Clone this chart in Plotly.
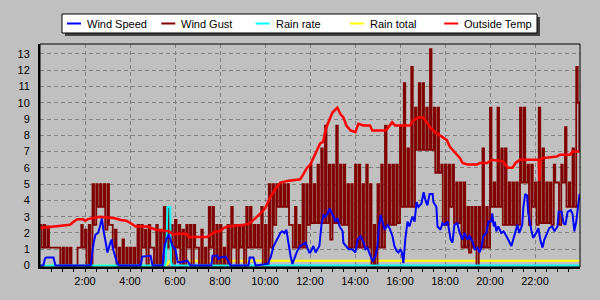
import plotly.graph_objects as go

# ---------------- data ----------------
def hm(s):
    h, m = s.split(":")
    return int(h) + int(m) / 60.0

# Wind gust envelope per 10-minute bin starting 0:00 (high / low within the bin)
gust_hi = [
    2.5, 2.5, 2.4, 1.1, 1.1, 1.1,
    1.1, 1.1, 1.1, 0.0, 1.1, 2.5,
    2.2, 2.5, 5.0, 5.0, 5.0, 5.0,
    5.0, 2.5, 2.2, 1.1, 1.6, 1.1,
    1.1, 1.1, 2.5, 2.5, 2.2, 2.5,
    1.1, 2.5, 2.2, 3.6, 3.6, 2.5,
    2.8, 2.5, 2.2, 2.5, 2.5, 2.5,
    1.1, 2.2, 1.1, 3.6, 3.6, 2.5,
    2.5, 1.1, 2.5, 3.6, 2.5, 2.5,
    2.5, 3.6, 3.6, 2.5, 2.5, 3.6,
    2.5, 5.0, 5.0, 5.0, 5.0, 5.0,
    5.0, 2.5, 3.6, 2.5, 5.0, 5.0,
    6.2, 5.0, 6.2, 7.2, 8.6, 6.2,
    6.2, 8.6, 6.2, 6.2, 5.0, 5.0,
    6.2, 6.2, 5.0, 6.2, 5.0, 2.5,
    5.0, 6.2, 8.6, 6.2, 6.2, 6.2,
    8.6, 11.2, 7.2, 12.2, 9.7, 11.2,
    11.2, 9.7, 13.3, 9.7, 9.7, 6.2,
    6.2, 6.2, 6.2, 5.1, 5.1, 5.1,
    3.6, 3.6, 3.6, 3.6, 7.2, 3.6,
    9.7, 5.1, 9.7, 7.2, 7.2, 5.1,
    5.1, 5.1, 9.7, 9.7, 6.2, 6.2,
    5.1, 9.7, 7.2, 5.1, 5.1, 6.2,
    5.1, 6.2, 8.5, 5.1, 7.2, 12.2,
]
gust_lo = [
    1.1, 1.1, 1.1, 1.1, 1.1, 0.0,
    0.0, 0.0, 0.0, 0.0, 1.1, 1.1,
    0.0, 0.0, 2.5, 3.6, 3.6, 2.2,
    2.5, 1.1, 0.0, 0.0, 0.0, 0.0,
    0.0, 0.0, 0.0, 1.1, 0.0, 1.1,
    0.0, 0.0, 0.0, 1.1, 1.1, 0.0,
    1.1, 0.0, 0.0, 1.1, 0.0, 1.1,
    0.0, 0.0, 0.0, 1.1, 0.0, 0.0,
    0.0, 0.0, 0.0, 1.1, 0.0, 1.1,
    0.0, 1.1, 1.1, 1.1, 1.1, 0.0,
    0.0, 1.1, 2.5, 3.6, 3.6, 3.6,
    2.5, 1.1, 1.1, 1.1, 1.1, 2.5,
    2.6, 2.6, 2.6, 2.6, 2.6, 1.6,
    2.6, 2.6, 2.5, 2.5, 1.1, 1.1,
    1.1, 1.1, 1.1, 1.1, 0.0, 0.0,
    1.1, 1.1, 2.5, 2.5, 2.5, 2.6,
    3.6, 3.6, 3.6, 3.6, 7.1, 7.1,
    7.1, 7.1, 7.1, 5.7, 5.7, 2.5,
    2.5, 3.6, 2.6, 2.6, 1.1, 1.1,
    0.8, 1.1, 0.0, 1.1, 1.1, 1.1,
    3.6, 3.6, 3.6, 2.5, 2.5, 2.5,
    2.5, 2.5, 5.1, 5.1, 2.5, 3.6,
    2.5, 2.6, 2.6, 2.6, 2.5, 5.1,
    2.5, 5.1, 3.6, 3.6, 3.6, 10.0,
]
gust_last_time = "23:58"
gust_last_value = 7.0

speed_times = [
    "0:00", "0:09", "0:13", "0:16", "0:36", "0:41", "2:15", "2:19", "2:23", "2:28",
    "2:35", "2:41", "2:45", "2:49", "2:55", "3:00", "3:06", "3:11", "3:15", "3:20",
    "3:25", "3:30", "4:28", "4:33", "4:55", "5:00", "5:27", "5:29", "5:32", "5:37",
    "5:40", "5:43", "5:48", "5:53", "6:01", "6:07", "6:15", "6:33", "6:41", "7:37",
    "7:40", "7:53", "7:56", "8:01", "8:15", "8:23", "8:28", "9:16", "9:19", "9:29",
    "9:35", "10:07", "10:15", "10:23", "10:33", "10:41", "10:46", "10:52", "10:57", "11:02",
    "11:08", "11:13", "11:21", "11:26", "11:34", "11:42", "11:48", "11:53", "11:58", "12:01",
    "12:09", "12:15", "12:20", "12:25", "12:31", "12:36", "12:41", "12:47", "12:52", "13:00",
    "13:03", "13:08", "13:13", "13:19", "13:27", "13:29", "13:37", "13:43", "13:53", "14:01",
    "14:07", "14:15", "14:23", "14:28", "14:33", "14:41", "14:47", "14:55", "15:00", "15:03",
    "15:08", "15:13", "15:19", "15:27", "15:32", "15:40", "15:45", "15:51", "15:56", "16:01",
    "16:05", "16:09", "16:14", "16:20", "16:25", "16:33", "16:39", "16:44", "16:49", "16:57",
    "17:03", "17:08", "17:13", "17:19", "17:27", "17:29", "17:37", "17:40", "17:48", "17:53",
    "17:59", "18:07", "18:15", "18:20", "18:25", "18:33", "18:39", "18:47", "18:52", "19:00",
    "19:05", "19:13", "19:19", "19:27", "19:32", "19:37", "19:42", "19:50", "19:56", "20:04",
    "20:06", "20:10", "20:13", "20:17", "20:22", "20:30", "20:36", "20:44", "20:49", "20:57",
    "21:02", "21:08", "21:13", "21:18", "21:26", "21:29", "21:34", "21:39", "21:42", "21:50",
    "21:55", "22:03", "22:09", "22:14", "22:20", "22:25", "22:33", "22:38", "22:46", "22:52",
    "23:00", "23:03", "23:11", "23:16", "23:21", "23:27", "23:35", "23:40", "23:45", "23:50",
    "23:56", "23:59",
]
speed_values = [
    0.0, 0.0, 0.4, 0.5, 0.5, 0.0, 0.0, 0.7, 1.4, 1.9,
    2.0, 2.5, 2.9, 2.2, 1.3, 0.8, 1.3, 1.6, 1.0, 0.5,
    0.2, 0.0, 0.0, 0.55, 0.6, 0.0, 0.0, 0.6, 1.2, 1.6,
    1.8, 1.9, 1.6, 1.2, 1.0, 0.2, 0.2, 0.3, 0.0, 0.0,
    0.6, 0.6, 0.4, 0.5, 0.55, 0.2, 0.0, 0.0, 0.5, 0.5,
    0.0, 0.1, 0.5, 1.2, 1.6, 2.0, 2.1, 2.0, 2.2, 1.4,
    0.6, 0.1, 0.6, 0.9, 1.2, 1.3, 1.4, 1.1, 0.8, 0.8,
    1.2, 0.8, 1.0, 1.2, 2.6, 3.1, 3.0, 3.2, 3.5, 3.2,
    3.0, 2.7, 2.9, 2.4, 2.1, 1.4, 1.2, 1.0, 1.0, 0.8,
    1.6, 1.8, 1.4, 1.0, 1.1, 0.6, 0.25, 0.6, 1.2, 2.2,
    3.1, 2.7, 2.2, 2.5, 2.3, 1.8, 1.2, 0.9, 0.8, 1.0,
    0.8, 0.15, 1.6, 2.7, 2.4, 3.0, 2.7, 3.9, 3.6, 3.8,
    4.5, 4.0, 3.7, 4.4, 4.4, 3.9, 3.6, 2.4, 2.2, 2.6,
    2.5, 2.7, 1.6, 1.4, 2.5, 2.6, 2.0, 1.6, 2.0, 1.6,
    1.8, 1.5, 1.0, 1.1, 0.8, 1.1, 1.8, 2.0, 2.7, 2.7,
    3.2, 2.4, 2.7, 2.1, 2.4, 2.0, 2.1, 1.8, 1.6, 1.2,
    1.6, 2.1, 2.5, 2.0, 2.5, 3.6, 4.4, 4.3, 3.2, 2.2,
    1.7, 2.0, 2.3, 1.6, 1.1, 1.6, 2.0, 2.3, 2.4, 2.1,
    2.4, 3.3, 3.3, 2.6, 2.5, 3.3, 3.4, 3.2, 2.1, 2.7,
    3.9, 4.4,
]

rain_rate_times = ["0:00", "5:34", "5:36", "5:38", "5:40", "5:47", "5:49", "5:52", "23:59"]
rain_rate_values = [0.0, 0.0, 0.4, 1.8, 3.6, 3.6, 0.3, 0.0, 0.0]

rain_total_times = ["0:00", "5:37", "5:40", "5:46", "23:59"]
rain_total_values = [0.0, 0.0, 0.1, 0.3, 0.3]

temp_times = [
    "0:00", "0:40", "1:00", "1:20", "1:30", "1:40", "1:55", "2:00", "2:08", "2:20",
    "2:40", "3:00", "3:20", "3:35", "3:50", "4:02", "4:15", "4:45", "5:10", "5:45",
    "5:55", "6:05", "6:30", "6:38", "7:25", "7:35", "7:50", "8:00", "8:10", "8:20",
    "9:05", "9:20", "9:35", "9:48", "10:00", "10:14", "10:28", "10:41", "11:00", "11:34",
    "11:42", "11:52", "12:01", "12:09", "12:19", "12:27", "12:35", "12:41", "12:49", "13:00",
    "13:13", "13:21", "13:29", "13:37", "13:48", "14:01", "14:09", "14:22", "14:40", "14:46",
    "15:00", "15:20", "15:26", "15:39", "15:47", "16:27", "16:35", "16:48", "17:02", "17:12",
    "17:20", "17:33", "17:52", "18:05", "18:13", "18:27", "18:40", "18:47", "19:00", "19:25",
    "19:33", "19:52", "20:05", "20:34", "20:48", "21:00", "21:08", "21:20", "21:38", "22:10",
    "22:12", "22:14", "22:21", "22:58", "23:06", "23:33", "23:40", "23:59",
]
temp_values = [
    2.3, 2.4, 2.45, 2.5, 2.7, 2.85, 2.85, 2.75, 2.85, 2.9,
    3.0, 2.95, 2.9, 2.8, 2.75, 2.6, 2.4, 2.4, 2.2, 2.1,
    1.9, 1.95, 1.95, 1.75, 1.75, 1.9, 2.1, 2.1, 2.3, 2.4,
    2.5, 2.6, 2.9, 3.2, 3.5, 4.2, 4.7, 5.1, 5.2, 5.3,
    5.6, 6.0, 6.2, 6.6, 7.0, 7.5, 7.6, 8.3, 8.8, 9.4,
    9.7, 9.3, 9.1, 8.6, 8.3, 8.2, 8.7, 8.6, 8.6, 8.3,
    8.3, 8.3, 8.4, 8.8, 8.6, 8.6, 8.9, 9.1, 9.1, 8.8,
    8.5, 8.2, 7.9, 7.7, 7.3, 6.9, 6.6, 6.3, 6.2, 6.2,
    6.3, 6.3, 6.5, 6.4, 6.0, 6.0, 6.3, 6.5, 6.5, 6.5,
    5.2, 6.5, 6.6, 6.7, 6.8, 6.8, 7.0, 7.0,
]

x_tick_hours = [2, 4, 6, 8, 10, 12, 14, 16, 18, 20, 22]
x_tick_labels = ["2:00", "4:00", "6:00", "8:00", "10:00", "12:00",
                 "14:00", "16:00", "18:00", "20:00", "22:00"]
y_ticks = list(range(0, 14))

legend_names = ["Wind Speed", "Wind Gust", "Rain rate", "Rain total", "Outside Temp"]
legend_colors = ["#0000ff", "#800000", "#00ffff", "#ffff00", "#ff0000"]

# ---------------- build ----------------
# each 10-minute bin: high reading held briefly, then the low reading (step line)
gx, gy = [], []
for i, (hi, lo) in enumerate(zip(gust_hi, gust_lo)):
    t = i * 10 / 60.0
    gx += [t, t + 4 / 60.0]
    gy += [hi, lo]
gx.append(hm(gust_last_time))
gy.append(gust_last_value)

FONT = "Arial, 'Liberation Sans', sans-serif"
fig = go.Figure()

fig.add_trace(go.Scatter(x=[hm(t) for t in rain_total_times], y=rain_total_values,
                         mode="lines", line=dict(color=legend_colors[3], width=2),
                         name=legend_names[3], showlegend=False))
fig.add_trace(go.Scatter(x=gx, y=gy, mode="lines", line_shape="hv",
                         line=dict(color=legend_colors[1], width=1.8),
                         name=legend_names[1], showlegend=False))
fig.add_trace(go.Scatter(x=[hm(t) for t in rain_rate_times], y=rain_rate_values,
                         mode="lines", line=dict(color=legend_colors[2], width=2),
                         name=legend_names[2], showlegend=False))
fig.add_trace(go.Scatter(x=[hm(t) for t in speed_times], y=speed_values,
                         mode="lines", line=dict(color=legend_colors[0], width=2),
                         name=legend_names[0], showlegend=False))
fig.add_trace(go.Scatter(x=[hm(t) for t in temp_times], y=temp_values,
                         mode="lines", line=dict(color=legend_colors[4], width=2.5),
                         name=legend_names[4], showlegend=False))

# plot area in pixels
L, R, T, B = 40, 580, 44, 267
W, H = 600, 300


def px(xp):
    return (xp - L) / (R - L)


def py(yp):
    return (B - yp) / (B - T)


shapes = []
# plot frame
shapes.append(dict(type="rect", xref="paper", yref="paper", x0=0, x1=1, y0=0, y1=1,
                   line=dict(color="black", width=1), layer="above"))
# manual legend: shadow + box
bx0, bx1, by0, by1 = 62, 537, 14, 33
shapes.append(dict(type="rect", xref="paper", yref="paper",
                   x0=px(bx0 + 3), x1=px(bx1 + 3), y0=py(by1 + 3), y1=py(by0 + 3),
                   fillcolor="#404040", line=dict(width=0), layer="above"))
shapes.append(dict(type="rect", xref="paper", yref="paper",
                   x0=px(bx0), x1=px(bx1), y0=py(by1), y1=py(by0),
                   fillcolor="white", line=dict(color="black", width=1), layer="above"))
annotations = []
ly = (by0 + by1) / 2
for i, (name, col) in enumerate(zip(legend_names, legend_colors)):
    s = 67 + 94.3 * i
    shapes.append(dict(type="line", xref="paper", yref="paper",
                       x0=px(s), x1=px(s + 14), y0=py(ly), y1=py(ly),
                       line=dict(color=col, width=2), layer="above"))
    annotations.append(dict(xref="paper", yref="paper", x=px(s + 18), y=py(ly),
                            xanchor="left", yanchor="middle", text=name, showarrow=False,
                            font=dict(family=FONT, size=11, color="black")))

grid = dict(showgrid=True, gridcolor="#808080", gridwidth=1, griddash="4px,3px")

fig.update_layout(
    width=W, height=H,
    margin=dict(l=L, r=W - R, t=T, b=H - B, pad=0),
    paper_bgcolor="#c0c0c0", plot_bgcolor="#c0c0c0",
    showlegend=False,
    font=dict(family=FONT, size=11, color="black"),
    shapes=shapes, annotations=annotations,
    xaxis=dict(range=[0, 24], tickmode="array", tickvals=x_tick_hours, ticktext=x_tick_labels,
               ticks="outside", ticklen=3, tickcolor="black", tickwidth=1,
               minor=dict(tickmode="array", tickvals=[0.5 * k for k in range(1, 48)],
                          ticks="outside", ticklen=3, tickcolor="black", showgrid=False),
               showline=True, linecolor="black", linewidth=2, zeroline=False,
               tickfont=dict(family=FONT, size=11, color="black"), fixedrange=True, **grid),
    yaxis=dict(range=[-0.09, 13.61], tickmode="array", tickvals=y_ticks,
               ticks="", showline=True, linecolor="black", linewidth=2, zeroline=False,
               ticklabelstandoff=6,
               tickfont=dict(family=FONT, size=11, color="black"), fixedrange=True, **grid),
)

fig.write_html("out.html")
